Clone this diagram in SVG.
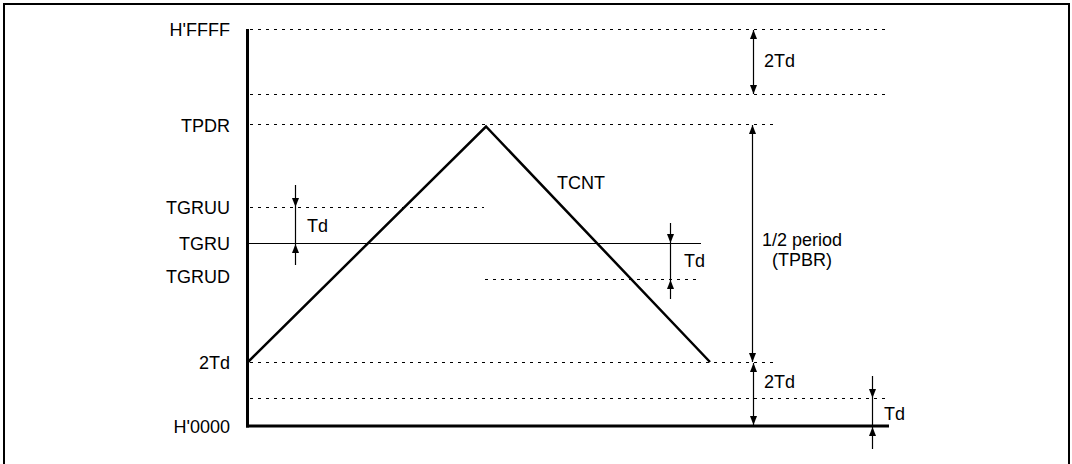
<svg xmlns="http://www.w3.org/2000/svg" width="1072" height="464" viewBox="0 0 1072 464">
<style>
.lbl{font-family:"Liberation Sans",Arial,sans-serif;font-size:18px;fill:#000}
.end{text-anchor:end}
.dash{stroke:#000;stroke-width:1;stroke-dasharray:3 5;fill:none}
.thin{stroke:#000;stroke-width:1.2;fill:none}
.arr{stroke:#000;stroke-width:1.2;fill:none}
</style>
<defs>
<marker id="ah" viewBox="0 0 9 7" refX="9" refY="3.5" markerWidth="9" markerHeight="7" markerUnits="userSpaceOnUse" orient="auto-start-reverse">
<path d="M0,0 L9,3.5 L0,7 z" fill="#000"/>
</marker>
</defs>
<rect x="4" y="4" width="1065" height="470" fill="none" stroke="#000" stroke-width="2"/>

<g id="axes">
<line x1="247.5" y1="29" x2="247.5" y2="427.5" stroke="#000" stroke-width="3"/>
<line x1="246" y1="426" x2="889" y2="426" stroke="#000" stroke-width="3"/>
</g>

<g id="levels">
<line class="dash" x1="250" y1="29.5" x2="887" y2="29.5"/>
<line class="dash" x1="250" y1="94.5" x2="887" y2="94.5"/>
<line class="dash" x1="250" y1="124.5" x2="776" y2="124.5"/>
<line class="dash" x1="250" y1="207.5" x2="484" y2="207.5"/>
<line class="thin" x1="249" y1="243.5" x2="701" y2="243.5"/>
<line class="dash" x1="485" y1="279.5" x2="700" y2="279.5"/>
<line class="dash" x1="250" y1="362.5" x2="777" y2="362.5"/>
<line class="dash" x1="250" y1="398.5" x2="887" y2="398.5"/>
</g>

<g id="labels">
<text class="lbl end" x="230" y="36">H'FFFF</text>
<text class="lbl end" x="230" y="132">TPDR</text>
<text class="lbl end" x="230" y="214">TGRUU</text>
<text class="lbl end" x="230" y="250">TGRU</text>
<text class="lbl end" x="230" y="283">TGRUD</text>
<text class="lbl end" x="230" y="369">2Td</text>
<text class="lbl end" x="230" y="433">H'0000</text>
</g>

<g id="tcnt">
<polyline points="248,362 486,126.5 710,362" fill="none" stroke="#000" stroke-width="2.5" stroke-linejoin="miter"/>
<text class="lbl" x="557" y="189">TCNT</text>
</g>

<g id="connectors">
<line class="arr" x1="753.5" y1="30" x2="753.5" y2="94" marker-start="url(#ah)" marker-end="url(#ah)"/>
<line class="arr" x1="752.5" y1="125" x2="752.5" y2="362" marker-start="url(#ah)" marker-end="url(#ah)"/>
<line class="arr" x1="753.5" y1="363" x2="753.5" y2="425" marker-start="url(#ah)" marker-end="url(#ah)"/>
<line class="arr" x1="295.5" y1="185" x2="295.5" y2="207" marker-end="url(#ah)"/>
<line class="arr" x1="295.5" y1="207" x2="295.5" y2="243"/>
<line class="arr" x1="295.5" y1="265" x2="295.5" y2="244" marker-end="url(#ah)"/>
<line class="arr" x1="670.5" y1="223" x2="670.5" y2="243" marker-end="url(#ah)"/>
<line class="arr" x1="670.5" y1="243" x2="670.5" y2="279"/>
<line class="arr" x1="670.5" y1="299" x2="670.5" y2="280" marker-end="url(#ah)"/>
<line class="arr" x1="872.5" y1="376" x2="872.5" y2="398" marker-end="url(#ah)"/>
<line class="arr" x1="872.5" y1="398" x2="872.5" y2="426"/>
<line class="arr" x1="872.5" y1="449" x2="872.5" y2="427" marker-end="url(#ah)"/>
</g>

<g id="dim-labels">
<text class="lbl" x="764" y="67">2Td</text>
<text class="lbl" x="802" y="246" text-anchor="middle">1/2 period</text>
<text class="lbl" x="802" y="266" text-anchor="middle">(TPBR)</text>
<text class="lbl" x="764" y="388">2Td</text>
<text class="lbl" x="307" y="232">Td</text>
<text class="lbl" x="684" y="267">Td</text>
<text class="lbl" x="884" y="420">Td</text>
</g>
</svg>
